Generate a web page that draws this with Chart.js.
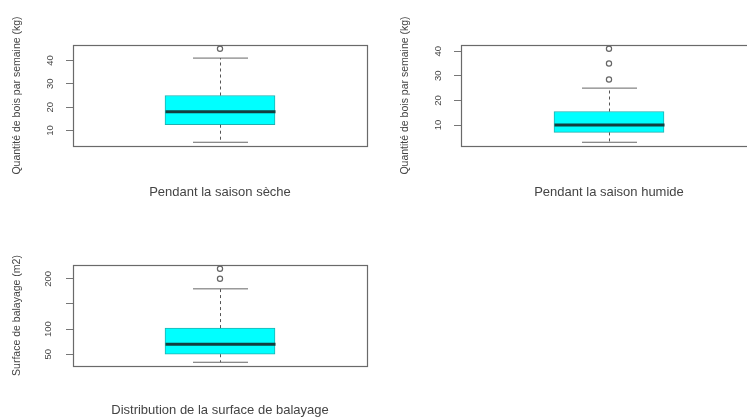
<!DOCTYPE html>
<html>
<head>
<meta charset="utf-8">
<script src="https://cdn.jsdelivr.net/npm/chart.js@4.4.0/dist/chart.umd.min.js"></script>
<style>
  html, body { margin: 0; padding: 0; background: #fff; }
  body { width: 747px; height: 417px; overflow: hidden; position: relative; }
  canvas { position: absolute; }
</style>
</head>
<body>
<canvas id="c0" width="380" height="210" style="left:0px;top:0px"></canvas>
<canvas id="c1" width="384" height="210" style="left:388px;top:0px"></canvas>
<canvas id="c2" width="380" height="185" style="left:0px;top:240px"></canvas>
<script>
// ========== Data ==========
const categories = ["Pendant la saison sèche", "Pendant la saison humide", "Distribution de la surface de balayage"];
const yTitles = ["Quantité de bois par semaine (kg)", "Quantité de bois par semaine (kg)", "Surface de balayage (m2)"];
const whiskerLow = [5, 3, 34];
const q1 = [12.5, 7, 50];
const median = [18, 10, 70];
const q3 = [25, 15.5, 102];
const whiskerHigh = [41, 25, 180];
const outliers = [[45], [28.5, 35, 41], [200, 220]];
const tickValues = [[10, 20, 30, 40], [10, 20, 30, 40], [50, 100, 150, 200]];
const tickLabels = [["10", "20", "30", "40"], ["10", "20", "30", "40"], ["50", "100", "", "200"]];

// ========== Layout per panel ==========
const layouts = [
  { padding: { left: 0, right: 13, top: 45, bottom: 10 }, xHeight: 54 },
  { padding: { left: 0, right: 15, top: 45, bottom: 10 }, xHeight: 54 },
  { padding: { left: 0, right: 13, top: 25, bottom: 7 }, xHeight: 52 },
];

Chart.defaults.font.family = "'Liberation Sans', Arial, sans-serif";
Chart.defaults.color = "#555";

// whiskers, caps, median and the box frame (R style)
const boxWhiskers = {
  id: "boxWhiskers",
  afterDatasetsDraw(chart, args, opts) {
    const i = opts.index;
    const ctx = chart.ctx;
    const ys = chart.scales.y;
    const bar = chart.getDatasetMeta(0).data[0];
    const cx = Math.round(bar.x) + 0.5;
    const half = bar.width / 2;
    const yHi = ys.getPixelForValue(whiskerHigh[i]);
    const yLo = ys.getPixelForValue(whiskerLow[i]);
    const line = (x1, y1, x2, y2) => { ctx.beginPath(); ctx.moveTo(x1, y1); ctx.lineTo(x2, y2); ctx.stroke(); };
    ctx.save();
    ctx.strokeStyle = "#555";
    ctx.lineWidth = 1;
    ctx.setLineDash([3, 3]);
    line(cx, ys.getPixelForValue(q3[i]), cx, yHi);
    line(cx, ys.getPixelForValue(q1[i]), cx, yLo);
    ctx.setLineDash([]);
    ctx.strokeStyle = "#666";
    line(cx - half / 2, yHi, cx + half / 2, yHi);
    line(cx - half / 2, yLo, cx + half / 2, yLo);
    ctx.strokeStyle = "#123f3f";
    ctx.lineWidth = 3;
    const yMed = ys.getPixelForValue(median[i]);
    line(cx - half, yMed, cx + half, yMed);
    const a = chart.chartArea;
    ctx.strokeStyle = "#6a6a6a";
    ctx.lineWidth = 1.2;
    ctx.strokeRect(Math.round(a.left) + 0.5, Math.round(a.top) + 0.5, Math.round(a.right - a.left), Math.round(a.bottom - a.top));
    ctx.restore();
  }
};

function makeChart(i) {
  const all = [whiskerLow[i], ...outliers[i], whiskerHigh[i]];
  const lo = Math.min(...all), hi = Math.max(...all);
  const ext = (hi - lo) * 0.04;
  return new Chart(document.getElementById("c" + i), {
    type: "bar",
    data: {
      labels: [categories[i]],
      datasets: [
        {
          data: [[q1[i], q3[i]]],
          backgroundColor: "#00ffff",
          borderColor: "#20b0b0",
          borderWidth: 1,
          borderSkipped: false,
          barThickness: 110,
        },
        {
          type: "line",
          showLine: false,
          data: outliers[i].map(v => ({ x: categories[i], y: v })),
          pointRadius: 2.6,
          pointBorderWidth: 1.2,
          pointBorderColor: "#666",
          pointBackgroundColor: "rgba(255,255,255,0)",
        },
      ],
    },
    options: {
      responsive: false,
      animation: false,
      devicePixelRatio: 1,
      events: [],
      layout: { padding: layouts[i].padding },
      plugins: { legend: { display: false }, tooltip: { enabled: false }, boxWhiskers: { index: i } },
      scales: {
        x: {
          grid: { display: false },
          border: { display: false },
          ticks: { display: false },
          title: { display: true, text: categories[i], color: "#444", font: { size: 13 }, padding: { top: 0, bottom: 0 } },
          afterFit: s => { s.height = layouts[i].xHeight; },
        },
        y: {
          min: lo - ext,
          max: hi + ext,
          border: { display: false },
          grid: { drawOnChartArea: false, drawTicks: true, tickLength: 7, color: "#777" },
          afterBuildTicks: s => { s.ticks = tickValues[i].map(v => ({ value: v })); },
          ticks: {
            autoSkip: false,
            minRotation: 90,
            maxRotation: 90,
            crossAlign: "center",
            padding: 10,
            color: "#444",
            font: { size: 9.5 },
            callback: (v, idx) => tickLabels[i][idx],
          },
          title: { display: true, text: yTitles[i], color: "#444", font: { size: 10.5 }, padding: { top: 11, bottom: 0 } },
          afterFit: s => { s.width = 73; },
        },
      },
    },
    plugins: [boxWhiskers],
  });
}

[0, 1, 2].forEach(makeChart);
</script>
</body>
</html>
